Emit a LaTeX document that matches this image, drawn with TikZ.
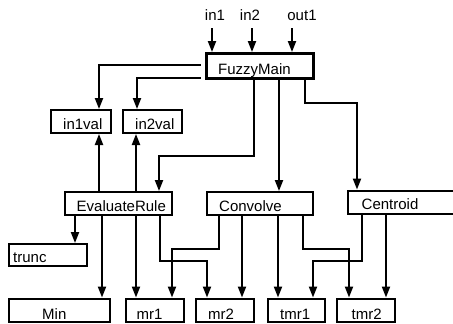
\documentclass[tikz,border=0pt]{standalone}
\usepackage{fontspec}
\setmainfont{Liberation Sans}
\usetikzlibrary{arrows.meta}
\begin{document}
\begin{tikzpicture}[x=1pt,y=-1pt,
  box/.style={draw, line width=2pt, inner sep=0pt, anchor=center},
  mainbox/.style={box, line width=3pt},
  lbl/.style={anchor=base west, inner sep=0pt, font=\fontsize{15}{17}\selectfont},
  toplbl/.style={anchor=base, inner sep=0pt, font=\fontsize{15}{17}\selectfont},
  wire/.style={line width=2pt},
  arr/.style={wire, -{Triangle[length=11pt,width=8pt]}}]
\useasboundingbox (0,0) rectangle (453,324);
\clip (0,0) rectangle (453,324);
% boxes
\node[mainbox, minimum width=107pt, minimum height=25pt] (fm) at (259.5,66) {};
\node[box, minimum width=60pt, minimum height=23pt] (iv1) at (81,121.5) {};
\node[box, minimum width=59pt, minimum height=23pt] (iv2) at (152.5,121.5) {};
\node[box, minimum width=107pt, minimum height=23pt] (er) at (118,203.5) {};
\node[box, minimum width=106pt, minimum height=23pt] (cv) at (260,203.5) {};
\node[box, minimum width=122pt, minimum height=23pt] (ct) at (409,202) {};
\node[box, minimum width=78pt, minimum height=22pt] (tr) at (48,255) {};
\node[box, minimum width=101pt, minimum height=23pt] (mn) at (59.5,310) {};
\node[box, minimum width=58pt, minimum height=23pt] (m1) at (155,310) {};
\node[box, minimum width=58pt, minimum height=23pt] (m2) at (225,310) {};
\node[box, minimum width=57pt, minimum height=23pt] (t1) at (296.5,310) {};
\node[box, minimum width=58pt, minimum height=23pt] (t2) at (366,310) {};
% texts
\node[lbl] (fmt) at (218,74) {FuzzyMain};
\node[lbl] (iv1t) at (63,129.5) {in1val};
\node[lbl] (iv2t) at (135,129.5) {in2val};
\node[lbl] (ert) at (76.5,211.5) {EvaluateRule};
\node[lbl] (cvt) at (219,211.5) {Convolve};
\node[lbl] (ctt) at (361.5,209.5) {Centroid};
\node[lbl] (trt) at (13,262) {trunc};
\node[lbl] (mnt) at (42,319) {Min};
\node[lbl] (m1t) at (136.5,319) {mr1};
\node[lbl] (m2t) at (208,319) {mr2};
\node[lbl] (t1t) at (280,319) {tmr1};
\node[lbl] (t2t) at (351.5,319) {tmr2};
\node[toplbl] (in1) at (215,20) {in1};
\node[toplbl] (in2) at (250,20) {in2};
\node[toplbl] (out1) at (302,20) {out1};
% inputs
\coordinate (a1) at (212,28);
\coordinate (a2) at (252,28);
\coordinate (a3) at (292,28);
\draw[arr] (a1) -- (a1 |- fm.north);
\draw[arr] (a2) -- (a2 |- fm.north);
\draw[arr] (a3) -- (a3 |- fm.north);
% from FuzzyMain
\draw[arr, shorten <=4pt] (fm.west |- 0,65) -| (99,0 |- iv1.north);
\draw[arr, shorten <=4pt] (fm.west |- 0,78) -| (137,0 |- iv2.north);
\draw[arr] (254,0 |- fm.south) -- (254,156) -| (159,0 |- er.north);
\draw[arr] (279,0 |- fm.south) -- (279,0 |- cv.north);
\draw[arr] (305,0 |- fm.south) -- (305,103) -| (357,0 |- ct.north);
% from EvaluateRule
\draw[arr] (99,0 |- er.north) -- (99,0 |- iv1.south);
\draw[arr] (136,0 |- er.north) -- (136,0 |- iv2.south);
\draw[arr] (75,0 |- er.south) -- (75,0 |- tr.north);
\draw[arr] (102,0 |- er.south) -- (102,0 |- mn.north);
\draw[arr] (136,0 |- er.south) -- (136,0 |- m1.north);
\draw[arr] (160,0 |- er.south) -- (160,261) -| (207,0 |- m2.north);
% from Convolve
\draw[arr] (219,0 |- cv.south) -- (219,249) -| (172,0 |- m1.north);
\draw[arr] (242,0 |- cv.south) -- (242,0 |- m2.north);
\draw[arr] (278,0 |- cv.south) -- (278,0 |- t1.north);
\draw[arr] (303,0 |- cv.south) -- (303,249) -| (349,0 |- t2.north);
% from Centroid
\draw[arr] (362,0 |- ct.south) -- (362,261) -| (313,0 |- t1.north);
\draw[arr] (386,0 |- ct.south) -- (386,0 |- t2.north);
\end{tikzpicture}
\end{document}
